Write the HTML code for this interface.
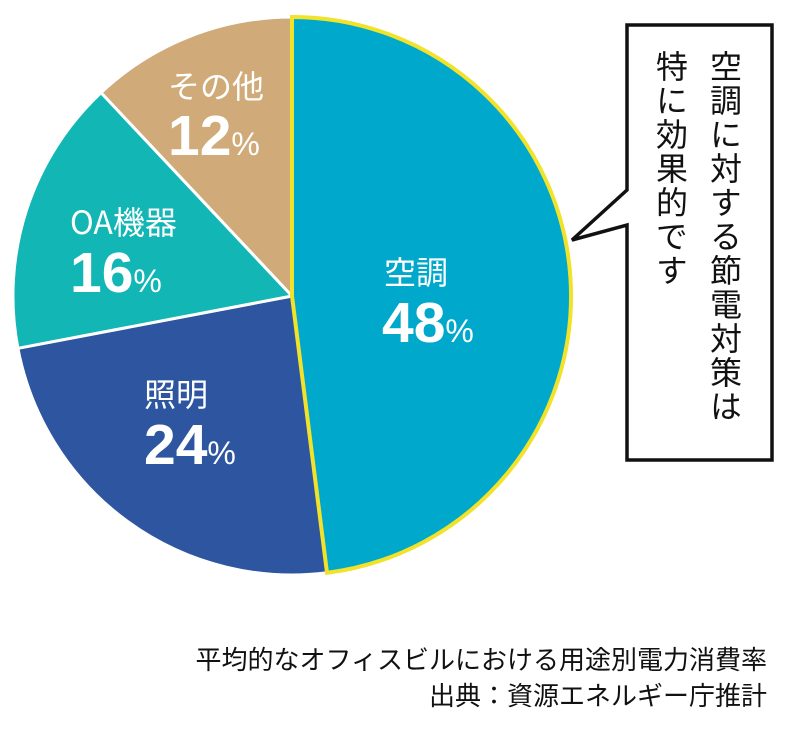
<!DOCTYPE html>
<html><head><meta charset="utf-8"><style>
body{margin:0;background:#fff;width:800px;height:740px;overflow:hidden}
svg text{font-family:"Liberation Sans","Noto Sans CJK JP",sans-serif}
.vt{position:absolute;writing-mode:vertical-rl;font-family:"Noto Sans CJK JP",sans-serif;font-size:32px;line-height:1;letter-spacing:2px;color:#111}
</style></head><body>
<svg width="800" height="740" style="position:absolute;left:0;top:0">
<path d="M292,296 L327,572.8 A279,279 0 0 1 17.9,348.3 Z" fill="#2d55a0" stroke="#fff" stroke-width="3"/>
<path d="M292,296 L17.9,348.3 A279,279 0 0 1 101,92.6 Z" fill="#12b6b4" stroke="#fff" stroke-width="3"/>
<path d="M292,296 L101,92.6 A279,279 0 0 1 292,17 Z" fill="#d0aa78" stroke="#fff" stroke-width="3"/>
<path d="M292,296 L292,17 A279,279 0 0 1 327,572.8 Z" fill="#00a9cb" stroke="#f2e22a" stroke-width="4"/>
<path d="M627,25 L772,25 L772,460 L627,460 L627,225 L572,240 L627,190 Z" fill="#fff" stroke="#111" stroke-width="3.5"/>
<g fill="#fff">
<text x="384" y="284" font-size="32" style="font-family:'Noto Sans CJK JP',sans-serif">空調</text>
<text x="382" y="342" font-size="57" font-weight="bold">48<tspan font-size="32" font-weight="normal">%</tspan></text>
<text x="144" y="406" font-size="32" style="font-family:'Noto Sans CJK JP',sans-serif">照明</text>
<text x="144" y="464" font-size="57" font-weight="bold">24<tspan font-size="32" font-weight="normal">%</tspan></text>
<text x="70" y="234" font-size="32" style="font-family:'Noto Sans CJK JP',sans-serif">OA機器</text>
<text x="70" y="292" font-size="57" font-weight="bold">16<tspan font-size="32" font-weight="normal">%</tspan></text>
<text x="168" y="98" font-size="32" style="font-family:'Noto Sans CJK JP',sans-serif">その他</text>
<text x="168" y="155" font-size="57" font-weight="bold">12<tspan font-size="32" font-weight="normal">%</tspan></text>
</g>
<g fill="#111" font-size="26" text-anchor="end" style="font-family:'Noto Sans CJK JP',sans-serif">
<text x="767" y="669">平均的なオフィスビルにおける用途別電力消費率</text>
<text x="767" y="705">出典：資源エネルギー庁推計</text>
</g>
</svg>
<div class="vt" style="left:710px;top:50px">空調に対する節電対策は</div>
<div class="vt" style="left:656px;top:50px">特に効果的です</div>
</body></html>
